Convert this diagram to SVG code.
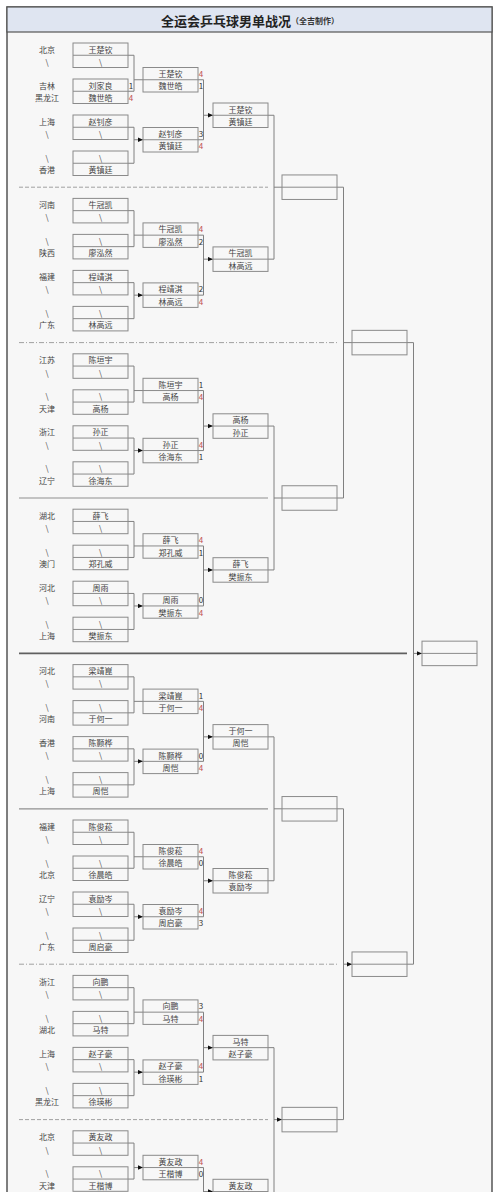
<svg xmlns="http://www.w3.org/2000/svg" width="500" height="1192" viewBox="0 0 500 1192">
<style>
text{font-family:"Noto Sans CJK SC","Liberation Sans",sans-serif;font-size:8px;fill:#444;text-anchor:middle;dominant-baseline:central}
.p{fill:#444}
.sr{fill:#c0504d}
.sb{fill:#333}
.bx{fill:none;stroke:#8a8a8a;stroke-width:1}
.c{fill:none;stroke:#808080;stroke-width:1}
.a{fill:none;stroke:#808080;stroke-width:1;marker-end:url(#ah)}
.s4{stroke:#a0a0a0;stroke-width:1;stroke-dasharray:4 2}
.s4s{stroke:#909090;stroke-width:1.2}
.s5{stroke:#a0a0a0;stroke-width:1;stroke-dasharray:5 2 1 2}
.s6{stroke:#606060;stroke-width:1.6}
.ttl{font-size:13px;font-weight:bold;fill:#222}
.sub{font-size:8px;font-weight:bold;fill:#333}
</style>
<defs>
<marker id="ah" markerUnits="userSpaceOnUse" markerWidth="5" markerHeight="5" refX="5" refY="2.5" orient="auto"><path d="M0,0.3 L5,2.5 L0,4.7 z" fill="#111"/></marker>
<g id="box"><rect class="bx" x="0" y="0" width="55" height="24.5"/><line class="bx" x1="0" y1="12.25" x2="55" y2="12.25"/></g>
</defs>
<rect x="0" y="0" width="500" height="1192" fill="#ffffff"/>
<rect x="7" y="7" width="485" height="1200" fill="#f7f7f7" stroke="#555" stroke-width="1.5"/>
<rect x="7" y="7" width="485" height="25" fill="#dfe5f1" stroke="#555" stroke-width="1.2"/>
<text x="250" y="19.5"><tspan class="ttl">全运会乒乓球男单战况</tspan><tspan class="sub">（全吉制作）</tspan></text>

<g id="separators">
<line class="s4" x1="19" y1="187.2" x2="268" y2="187.2"/>
<line class="s5" x1="19" y1="342.6" x2="338" y2="342.6"/>
<line class="s4s" x1="19" y1="498" x2="268" y2="498"/>
<line class="s6" x1="19" y1="653.4" x2="407" y2="653.4"/>
<line class="s4s" x1="19" y1="808.8" x2="268" y2="808.8"/>
<line class="s5" x1="19" y1="964.2" x2="338" y2="964.2"/>
<line class="s4" x1="19" y1="1119.6" x2="268" y2="1119.6"/>
</g>

<g id="connectors">
<!-- Q1 -->
<path class="c" d="M128,55.25H134V91.25H128M128,127.25H134V163.25H128"/>
<path class="a" d="M134,79.75H143M134,139.75H143"/>
<path class="c" d="M198,79.75H203.5V139.75H198"/>
<path class="a" d="M203.5,115.25H213"/>
<!-- Q2 -->
<path class="c" d="M128,210.65H134V246.65H128M128,282.65H134V318.65H128"/>
<path class="a" d="M134,235.15H143M134,295.15H143"/>
<path class="c" d="M198,235.15H203.5V295.15H198"/>
<path class="a" d="M203.5,259.15H213"/>
<!-- Q3 -->
<path class="c" d="M128,366.05H134V402.05H128M128,438.05H134V474.05H128"/>
<path class="a" d="M134,390.55H143M134,450.55H143"/>
<path class="c" d="M198,390.55H203.5V450.55H198"/>
<path class="a" d="M203.5,426.05H213"/>
<!-- Q4 -->
<path class="c" d="M128,521.45H134V557.45H128M128,593.45H134V629.45H128"/>
<path class="a" d="M134,545.95H143M134,605.95H143"/>
<path class="c" d="M198,545.95H203.5V605.95H198"/>
<path class="a" d="M203.5,569.95H213"/>
<!-- Q5 -->
<path class="c" d="M128,676.85H134V712.85H128M128,748.85H134V784.85H128"/>
<path class="a" d="M134,701.35H143M134,761.35H143"/>
<path class="c" d="M198,701.35H203.5V761.35H198"/>
<path class="a" d="M203.5,736.85H213"/>
<!-- Q6 -->
<path class="c" d="M128,832.25H134V868.25H128M128,904.25H134V940.25H128"/>
<path class="a" d="M134,856.75H143M134,916.75H143"/>
<path class="c" d="M198,856.75H203.5V916.75H198"/>
<path class="a" d="M203.5,880.75H213"/>
<!-- Q7 -->
<path class="c" d="M128,987.65H134V1023.65H128M128,1059.65H134V1095.65H128"/>
<path class="a" d="M134,1012.15H143M134,1072.15H143"/>
<path class="c" d="M198,1012.15H203.5V1072.15H198"/>
<path class="a" d="M203.5,1047.65H213"/>
<!-- Q8 -->
<path class="c" d="M128,1143.05H134V1179.05H128"/>
<path class="a" d="M134,1167.55H143"/>
<path class="c" d="M198,1167.55H203.5V1200"/>
<path class="a" d="M203.5,1191.55H213"/>
<!-- R3 to R4 -->
<path class="c" d="M268,115.25H274V259.15H268M268,426.05H274V569.95H268M268,736.85H274V880.75H268M268,1047.65H274V1200"/>
<path class="a" d="M274,187.2H282M274,498H282M274,808.8H282M274,1119.6H282"/>
<!-- R4 to R5 -->
<path class="c" d="M337,187.2H343.5V498H337M337,808.8H343.5V1119.6H337"/>
<path class="a" d="M343.5,342.6H352M343.5,964.2H352"/>
<!-- R5 to R6 -->
<path class="c" d="M407,342.6H413.5V964.2H407"/>
<path class="a" d="M413.5,653.4H422"/>
</g>

<!-- ===== Q1 ===== -->
<g id="q1-r1-1" transform="translate(73,43)"><use href="#box"/><text x="27.5" y="6.1">王楚钦</text><text x="27.5" y="18.4">\</text><text class="p" x="-26" y="6.1">北京</text><text class="p" x="-26" y="18.4">\</text></g>
<g id="q1-r1-2" transform="translate(73,79)"><use href="#box"/><text x="27.5" y="6.1">刘家良</text><text x="27.5" y="18.4">魏世皓</text><text class="p" x="-26" y="6.1">吉林</text><text class="p" x="-26" y="18.4">黑龙江</text><text class="sb" x="58" y="6.1">1</text><text class="sr" x="58" y="18.4">4</text></g>
<g id="q1-r1-3" transform="translate(73,115)"><use href="#box"/><text x="27.5" y="6.1">赵钊彦</text><text x="27.5" y="18.4">\</text><text class="p" x="-26" y="6.1">上海</text><text class="p" x="-26" y="18.4">\</text></g>
<g id="q1-r1-4" transform="translate(73,151)"><use href="#box"/><text x="27.5" y="6.1">\</text><text x="27.5" y="18.4">黄镇廷</text><text class="p" x="-26" y="6.1">\</text><text class="p" x="-26" y="18.4">香港</text></g>
<g id="q1-r2-1" transform="translate(143,67.5)"><use href="#box"/><text x="27.5" y="6.1">王楚钦</text><text x="27.5" y="18.4">魏世皓</text><text class="sr" x="58" y="6.1">4</text><text class="sb" x="58" y="18.4">1</text></g>
<g id="q1-r2-2" transform="translate(143,127.5)"><use href="#box"/><text x="27.5" y="6.1">赵钊彦</text><text x="27.5" y="18.4">黄镇廷</text><text class="sb" x="58" y="6.1">3</text><text class="sr" x="58" y="18.4">4</text></g>
<g id="q1-r3" transform="translate(213,103)"><use href="#box"/><text x="27.5" y="6.1">王楚钦</text><text x="27.5" y="18.4">黄镇廷</text></g>

<!-- ===== Q2 ===== -->
<g id="q2-r1-1" transform="translate(73,198.4)"><use href="#box"/><text x="27.5" y="6.1">牛冠凯</text><text x="27.5" y="18.4">\</text><text class="p" x="-26" y="6.1">河南</text><text class="p" x="-26" y="18.4">\</text></g>
<g id="q2-r1-2" transform="translate(73,234.4)"><use href="#box"/><text x="27.5" y="6.1">\</text><text x="27.5" y="18.4">廖泓然</text><text class="p" x="-26" y="6.1">\</text><text class="p" x="-26" y="18.4">陕西</text></g>
<g id="q2-r1-3" transform="translate(73,270.4)"><use href="#box"/><text x="27.5" y="6.1">程靖淇</text><text x="27.5" y="18.4">\</text><text class="p" x="-26" y="6.1">福建</text><text class="p" x="-26" y="18.4">\</text></g>
<g id="q2-r1-4" transform="translate(73,306.4)"><use href="#box"/><text x="27.5" y="6.1">\</text><text x="27.5" y="18.4">林高远</text><text class="p" x="-26" y="6.1">\</text><text class="p" x="-26" y="18.4">广东</text></g>
<g id="q2-r2-1" transform="translate(143,222.9)"><use href="#box"/><text x="27.5" y="6.1">牛冠凯</text><text x="27.5" y="18.4">廖泓然</text><text class="sr" x="58" y="6.1">4</text><text class="sb" x="58" y="18.4">2</text></g>
<g id="q2-r2-2" transform="translate(143,282.9)"><use href="#box"/><text x="27.5" y="6.1">程靖淇</text><text x="27.5" y="18.4">林高远</text><text class="sb" x="58" y="6.1">2</text><text class="sr" x="58" y="18.4">4</text></g>
<g id="q2-r3" transform="translate(213,246.9)"><use href="#box"/><text x="27.5" y="6.1">牛冠凯</text><text x="27.5" y="18.4">林高远</text></g>

<!-- ===== Q3 ===== -->
<g id="q3-r1-1" transform="translate(73,353.8)"><use href="#box"/><text x="27.5" y="6.1">陈垣宇</text><text x="27.5" y="18.4">\</text><text class="p" x="-26" y="6.1">江苏</text><text class="p" x="-26" y="18.4">\</text></g>
<g id="q3-r1-2" transform="translate(73,389.8)"><use href="#box"/><text x="27.5" y="6.1">\</text><text x="27.5" y="18.4">高杨</text><text class="p" x="-26" y="6.1">\</text><text class="p" x="-26" y="18.4">天津</text></g>
<g id="q3-r1-3" transform="translate(73,425.8)"><use href="#box"/><text x="27.5" y="6.1">孙正</text><text x="27.5" y="18.4">\</text><text class="p" x="-26" y="6.1">浙江</text><text class="p" x="-26" y="18.4">\</text></g>
<g id="q3-r1-4" transform="translate(73,461.8)"><use href="#box"/><text x="27.5" y="6.1">\</text><text x="27.5" y="18.4">徐海东</text><text class="p" x="-26" y="6.1">\</text><text class="p" x="-26" y="18.4">辽宁</text></g>
<g id="q3-r2-1" transform="translate(143,378.3)"><use href="#box"/><text x="27.5" y="6.1">陈垣宇</text><text x="27.5" y="18.4">高杨</text><text class="sb" x="58" y="6.1">1</text><text class="sr" x="58" y="18.4">4</text></g>
<g id="q3-r2-2" transform="translate(143,438.3)"><use href="#box"/><text x="27.5" y="6.1">孙正</text><text x="27.5" y="18.4">徐海东</text><text class="sr" x="58" y="6.1">4</text><text class="sb" x="58" y="18.4">1</text></g>
<g id="q3-r3" transform="translate(213,413.8)"><use href="#box"/><text x="27.5" y="6.1">高杨</text><text x="27.5" y="18.4">孙正</text></g>

<!-- ===== Q4 ===== -->
<g id="q4-r1-1" transform="translate(73,509.2)"><use href="#box"/><text x="27.5" y="6.1">薛飞</text><text x="27.5" y="18.4">\</text><text class="p" x="-26" y="6.1">湖北</text><text class="p" x="-26" y="18.4">\</text></g>
<g id="q4-r1-2" transform="translate(73,545.2)"><use href="#box"/><text x="27.5" y="6.1">\</text><text x="27.5" y="18.4">郑孔威</text><text class="p" x="-26" y="6.1">\</text><text class="p" x="-26" y="18.4">澳门</text></g>
<g id="q4-r1-3" transform="translate(73,581.2)"><use href="#box"/><text x="27.5" y="6.1">周雨</text><text x="27.5" y="18.4">\</text><text class="p" x="-26" y="6.1">河北</text><text class="p" x="-26" y="18.4">\</text></g>
<g id="q4-r1-4" transform="translate(73,617.2)"><use href="#box"/><text x="27.5" y="6.1">\</text><text x="27.5" y="18.4">樊振东</text><text class="p" x="-26" y="6.1">\</text><text class="p" x="-26" y="18.4">上海</text></g>
<g id="q4-r2-1" transform="translate(143,533.7)"><use href="#box"/><text x="27.5" y="6.1">薛飞</text><text x="27.5" y="18.4">郑孔威</text><text class="sr" x="58" y="6.1">4</text><text class="sb" x="58" y="18.4">1</text></g>
<g id="q4-r2-2" transform="translate(143,593.7)"><use href="#box"/><text x="27.5" y="6.1">周雨</text><text x="27.5" y="18.4">樊振东</text><text class="sb" x="58" y="6.1">0</text><text class="sr" x="58" y="18.4">4</text></g>
<g id="q4-r3" transform="translate(213,557.7)"><use href="#box"/><text x="27.5" y="6.1">薛飞</text><text x="27.5" y="18.4">樊振东</text></g>

<!-- ===== Q5 ===== -->
<g id="q5-r1-1" transform="translate(73,664.6)"><use href="#box"/><text x="27.5" y="6.1">梁靖崑</text><text x="27.5" y="18.4">\</text><text class="p" x="-26" y="6.1">河北</text><text class="p" x="-26" y="18.4">\</text></g>
<g id="q5-r1-2" transform="translate(73,700.6)"><use href="#box"/><text x="27.5" y="6.1">\</text><text x="27.5" y="18.4">于何一</text><text class="p" x="-26" y="6.1">\</text><text class="p" x="-26" y="18.4">河南</text></g>
<g id="q5-r1-3" transform="translate(73,736.6)"><use href="#box"/><text x="27.5" y="6.1">陈颢桦</text><text x="27.5" y="18.4">\</text><text class="p" x="-26" y="6.1">香港</text><text class="p" x="-26" y="18.4">\</text></g>
<g id="q5-r1-4" transform="translate(73,772.6)"><use href="#box"/><text x="27.5" y="6.1">\</text><text x="27.5" y="18.4">周恺</text><text class="p" x="-26" y="6.1">\</text><text class="p" x="-26" y="18.4">上海</text></g>
<g id="q5-r2-1" transform="translate(143,689.1)"><use href="#box"/><text x="27.5" y="6.1">梁靖崑</text><text x="27.5" y="18.4">于何一</text><text class="sb" x="58" y="6.1">1</text><text class="sr" x="58" y="18.4">4</text></g>
<g id="q5-r2-2" transform="translate(143,749.1)"><use href="#box"/><text x="27.5" y="6.1">陈颢桦</text><text x="27.5" y="18.4">周恺</text><text class="sb" x="58" y="6.1">0</text><text class="sr" x="58" y="18.4">4</text></g>
<g id="q5-r3" transform="translate(213,724.6)"><use href="#box"/><text x="27.5" y="6.1">于何一</text><text x="27.5" y="18.4">周恺</text></g>

<!-- ===== Q6 ===== -->
<g id="q6-r1-1" transform="translate(73,820)"><use href="#box"/><text x="27.5" y="6.1">陈俊菘</text><text x="27.5" y="18.4">\</text><text class="p" x="-26" y="6.1">福建</text><text class="p" x="-26" y="18.4">\</text></g>
<g id="q6-r1-2" transform="translate(73,856)"><use href="#box"/><text x="27.5" y="6.1">\</text><text x="27.5" y="18.4">徐晨皓</text><text class="p" x="-26" y="6.1">\</text><text class="p" x="-26" y="18.4">北京</text></g>
<g id="q6-r1-3" transform="translate(73,892)"><use href="#box"/><text x="27.5" y="6.1">袁励岑</text><text x="27.5" y="18.4">\</text><text class="p" x="-26" y="6.1">辽宁</text><text class="p" x="-26" y="18.4">\</text></g>
<g id="q6-r1-4" transform="translate(73,928)"><use href="#box"/><text x="27.5" y="6.1">\</text><text x="27.5" y="18.4">周启豪</text><text class="p" x="-26" y="6.1">\</text><text class="p" x="-26" y="18.4">广东</text></g>
<g id="q6-r2-1" transform="translate(143,844.5)"><use href="#box"/><text x="27.5" y="6.1">陈俊菘</text><text x="27.5" y="18.4">徐晨皓</text><text class="sr" x="58" y="6.1">4</text><text class="sb" x="58" y="18.4">0</text></g>
<g id="q6-r2-2" transform="translate(143,904.5)"><use href="#box"/><text x="27.5" y="6.1">袁励岑</text><text x="27.5" y="18.4">周启豪</text><text class="sr" x="58" y="6.1">4</text><text class="sb" x="58" y="18.4">3</text></g>
<g id="q6-r3" transform="translate(213,868.5)"><use href="#box"/><text x="27.5" y="6.1">陈俊菘</text><text x="27.5" y="18.4">袁励岑</text></g>

<!-- ===== Q7 ===== -->
<g id="q7-r1-1" transform="translate(73,975.4)"><use href="#box"/><text x="27.5" y="6.1">向鹏</text><text x="27.5" y="18.4">\</text><text class="p" x="-26" y="6.1">浙江</text><text class="p" x="-26" y="18.4">\</text></g>
<g id="q7-r1-2" transform="translate(73,1011.4)"><use href="#box"/><text x="27.5" y="6.1">\</text><text x="27.5" y="18.4">马特</text><text class="p" x="-26" y="6.1">\</text><text class="p" x="-26" y="18.4">湖北</text></g>
<g id="q7-r1-3" transform="translate(73,1047.4)"><use href="#box"/><text x="27.5" y="6.1">赵子豪</text><text x="27.5" y="18.4">\</text><text class="p" x="-26" y="6.1">上海</text><text class="p" x="-26" y="18.4">\</text></g>
<g id="q7-r1-4" transform="translate(73,1083.4)"><use href="#box"/><text x="27.5" y="6.1">\</text><text x="27.5" y="18.4">徐瑛彬</text><text class="p" x="-26" y="6.1">\</text><text class="p" x="-26" y="18.4">黑龙江</text></g>
<g id="q7-r2-1" transform="translate(143,999.9)"><use href="#box"/><text x="27.5" y="6.1">向鹏</text><text x="27.5" y="18.4">马特</text><text class="sb" x="58" y="6.1">3</text><text class="sr" x="58" y="18.4">4</text></g>
<g id="q7-r2-2" transform="translate(143,1059.9)"><use href="#box"/><text x="27.5" y="6.1">赵子豪</text><text x="27.5" y="18.4">徐瑛彬</text><text class="sr" x="58" y="6.1">4</text><text class="sb" x="58" y="18.4">1</text></g>
<g id="q7-r3" transform="translate(213,1035.4)"><use href="#box"/><text x="27.5" y="6.1">马特</text><text x="27.5" y="18.4">赵子豪</text></g>

<!-- ===== Q8 ===== -->
<g id="q8-r1-1" transform="translate(73,1130.8)"><use href="#box"/><text x="27.5" y="6.1">黄友政</text><text x="27.5" y="18.4">\</text><text class="p" x="-26" y="6.1">北京</text><text class="p" x="-26" y="18.4">\</text></g>
<g id="q8-r1-2" transform="translate(73,1166.8)"><use href="#box"/><text x="27.5" y="6.1">\</text><text x="27.5" y="18.4">王楷博</text><text class="p" x="-26" y="6.1">\</text><text class="p" x="-26" y="18.4">天津</text></g>
<g id="q8-r2-1" transform="translate(143,1155.3)"><use href="#box"/><text x="27.5" y="6.1">黄友政</text><text x="27.5" y="18.4">王楷博</text><text class="sr" x="58" y="6.1">4</text><text class="sb" x="58" y="18.4">0</text></g>
<g id="q8-r3" transform="translate(213,1179.3)"><use href="#box"/><text x="27.5" y="6.1">黄友政</text></g>

<!-- ===== later rounds ===== -->
<g id="r4-1" transform="translate(282,174.95)"><use href="#box"/></g>
<g id="r4-2" transform="translate(282,485.75)"><use href="#box"/></g>
<g id="r4-3" transform="translate(282,796.55)"><use href="#box"/></g>
<g id="r4-4" transform="translate(282,1107.35)"><use href="#box"/></g>
<g id="r5-1" transform="translate(352,330.35)"><use href="#box"/></g>
<g id="r5-2" transform="translate(352,951.95)"><use href="#box"/></g>
<g id="r6-1" transform="translate(422,641.15)"><use href="#box"/></g>
</svg>
